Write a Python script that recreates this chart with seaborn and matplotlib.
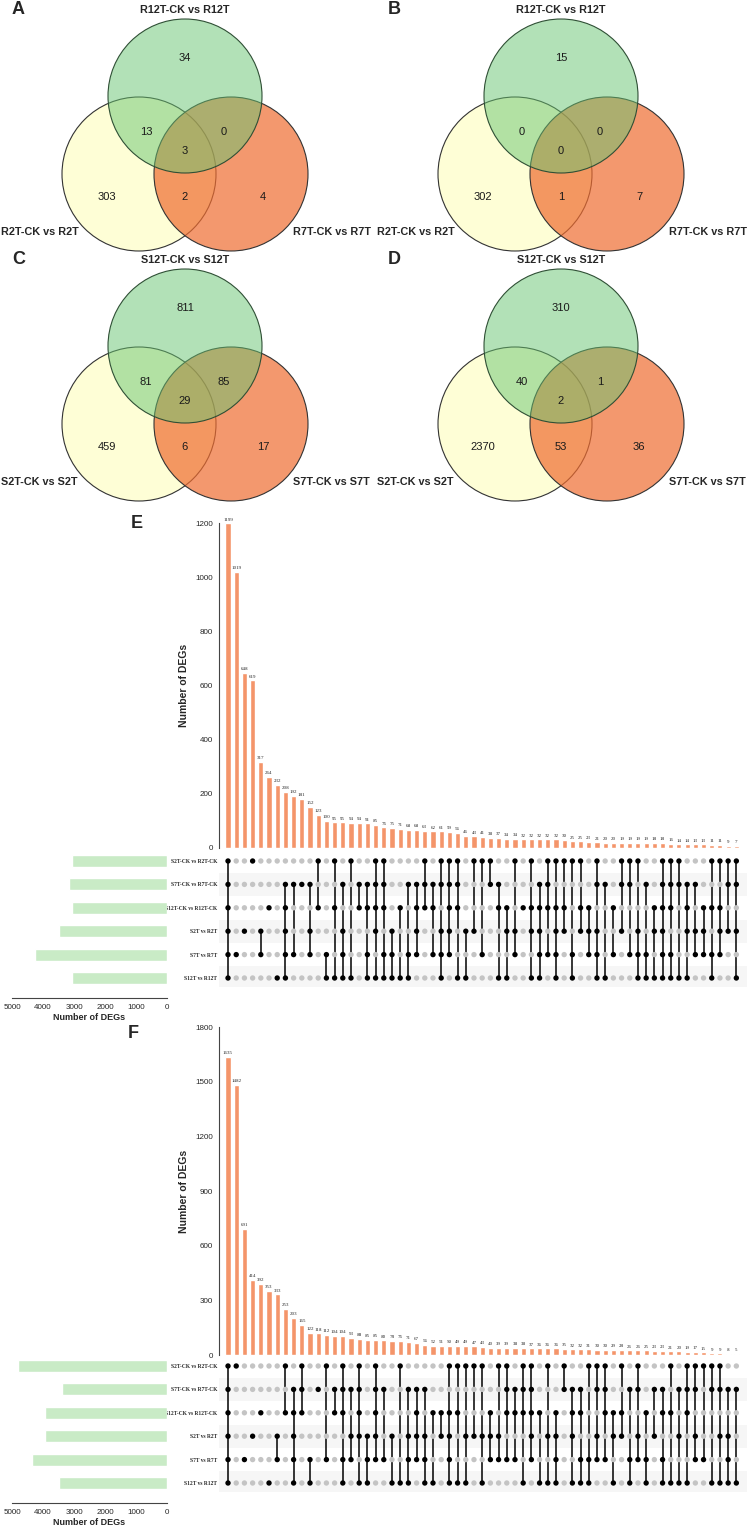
import numpy as np
import pandas as pd
import matplotlib
matplotlib.use("Agg")
import matplotlib.pyplot as plt
from matplotlib.patches import Circle
import seaborn as sns

sns.set_style("white")
plt.rcParams['font.family'] = ['Liberation Sans', 'DejaVu Sans']

W, H = 747, 1526
GREEN_C = '#67c571'
YELLOW_C = '#fefed6'
ORANGE_C = '#ef6c30'
BAR_C = '#f4956a'
SIDE_C = '#c9ebc6'

# ---------------- Venn data ----------------
# order: top only, top&left, top&right, all three, left only, left&right, right only
venn_letters = ['A', 'B', 'C', 'D']
venn_top = ['R12T-CK vs R12T', 'R12T-CK vs R12T', 'S12T-CK vs S12T', 'S12T-CK vs S12T']
venn_left = ['R2T-CK vs R2T', 'R2T-CK vs R2T', 'S2T-CK vs S2T', 'S2T-CK vs S2T']
venn_right = ['R7T-CK vs R7T', 'R7T-CK vs R7T', 'S7T-CK vs S7T', 'S7T-CK vs S7T']
venn_A = [34, 13, 0, 3, 303, 2, 4]
venn_B = [15, 0, 0, 0, 302, 1, 7]
venn_C = [811, 81, 85, 29, 459, 6, 17]
venn_D = [310, 40, 1, 2, 2370, 53, 36]

# ---------------- UpSet data ----------------
set_names = ['S2T-CK vs R2T-CK', 'S7T-CK vs R7T-CK', 'S12T-CK vs R12T-CK',
             'S2T vs R2T', 'S7T vs R7T', 'S12T vs R12T']

E_counts = [1199, 1019, 648, 619, 317, 264, 232, 208, 192, 181, 152, 123, 100, 95, 95, 94,
            94, 91, 85, 76, 75, 71, 68, 68, 63, 62, 61, 59, 56, 46, 43, 41, 38, 37, 34, 34,
            32, 32, 32, 32, 32, 30, 25, 25, 23, 21, 20, 20, 19, 19, 19, 19, 18, 18, 16, 14,
            14, 13, 13, 11, 11, 9, 7]
# columns in which each set (row) is part of the intersection
E_active = [
    [0, 3, 11, 13, 15, 18, 19, 24, 26, 27, 28, 30, 31, 32, 35, 37, 39, 40, 41, 42, 43, 45,
     48, 49, 50, 53, 54, 55, 59, 60, 61, 62],
    [0, 7, 8, 9, 10, 14, 16, 17, 18, 19, 22, 23, 24, 25, 26, 27, 28, 32, 33, 38, 39, 45,
     46, 48, 49, 51, 53, 54, 55, 56, 57, 61, 62],
    [0, 5, 7, 11, 13, 16, 17, 18, 19, 21, 23, 24, 25, 27, 28, 33, 34, 36, 37, 38, 39, 40,
     41, 43, 44, 47, 52, 53, 54, 56, 58, 59, 60],
    [0, 2, 4, 7, 10, 14, 18, 20, 23, 26, 27, 29, 30, 34, 35, 37, 38, 40, 41, 43, 44, 45,
     48, 50, 52, 53, 56, 57, 58, 60, 61, 62],
    [0, 1, 4, 7, 8, 10, 12, 14, 17, 19, 20, 22, 23, 25, 26, 27, 31, 35, 38, 39, 40, 42,
     44, 45, 47, 49, 50, 51, 53, 54, 57, 58, 59, 60],
    [0, 6, 7, 12, 13, 14, 15, 17, 18, 19, 20, 21, 22, 26, 28, 29, 33, 34, 37, 38, 40, 42,
     45, 46, 50, 51, 52, 53, 54, 55, 56, 59, 62],
]
E_sizes = [3050, 3150, 3050, 3500, 4250, 3050]

F_counts = [1635, 1482, 691, 414, 392, 353, 333, 253, 203, 165, 122, 118, 112, 104, 104, 93,
            88, 85, 85, 80, 78, 76, 71, 67, 56, 52, 51, 50, 49, 49, 47, 43, 40, 39, 39, 38,
            38, 37, 36, 36, 36, 35, 32, 32, 31, 30, 30, 29, 28, 26, 26, 25, 23, 23, 21, 20,
            19, 17, 15, 9, 9, 8, 5]
F_active = [
    [0, 1, 7, 9, 12, 14, 16, 18, 21, 27, 28, 29, 30, 31, 33, 34, 36, 37, 39, 41, 44, 45,
     46, 48, 50, 54, 56, 57, 58, 59, 60],
    [0, 8, 9, 11, 13, 14, 15, 16, 18, 19, 22, 23, 24, 34, 35, 36, 37, 41, 42, 43, 45, 46,
     49, 50, 52, 53, 55, 56, 57, 59, 60, 61, 62],
    [0, 4, 7, 8, 9, 13, 14, 16, 18, 23, 25, 26, 27, 28, 32, 34, 35, 36, 37, 38, 40, 42,
     43, 46, 47, 48, 51, 53, 54, 56],
    [0, 3, 6, 8, 15, 16, 17, 18, 20, 22, 23, 24, 26, 27, 29, 30, 31, 32, 33, 37, 39, 40,
     42, 45, 47, 48, 50, 52, 55, 57, 60, 61],
    [0, 2, 6, 8, 10, 12, 14, 15, 17, 18, 19, 22, 23, 24, 27, 32, 33, 34, 35, 37, 40, 43,
     44, 45, 46, 49, 50, 51, 53, 57, 58, 61],
    [0, 5, 8, 10, 14, 16, 17, 20, 21, 22, 24, 25, 27, 28, 29, 31, 36, 38, 39, 40, 42, 43,
     44, 47, 49, 51, 53, 54, 55, 56, 59, 60, 61, 62],
]
F_sizes = [4800, 3400, 3950, 3950, 4350, 3500]

fig = plt.figure(figsize=(W / 100, H / 100), dpi=100)


def px_axes(x0, y0, x1, y1):
    return fig.add_axes([x0 / W, 1 - y1 / H, (x1 - x0) / W, (y1 - y0) / H])


# ================= Venn diagrams =================
axv = px_axes(0, 0, W, 510)
axv.set_xlim(0, W)
axv.set_ylim(510, 0)
axv.axis('off')

centers = [(185, 96), (561, 96), (185, 346), (561, 346)]
venn_vals = [venn_A, venn_B, venn_C, venn_D]
R = 77
offs = [(0, -38), (-39, 36), (39, 36), (0, 55), (-78, 101), (0, 101), (78, 101)]
for k, (gx, gy) in enumerate(centers):
    axv.add_patch(Circle((gx - 46, gy + 78), R, facecolor=YELLOW_C, edgecolor='#333333', lw=0.8))
    axv.add_patch(Circle((gx + 46, gy + 78), R, facecolor=ORANGE_C, alpha=0.7, edgecolor='none'))
    axv.add_patch(Circle((gx + 46, gy + 78), R, facecolor='none', edgecolor='#333333', lw=0.8))
    axv.add_patch(Circle((gx, gy), R, facecolor=GREEN_C, alpha=0.5, edgecolor='none'))
    axv.add_patch(Circle((gx, gy), R, facecolor='none', edgecolor='#2f4f35', lw=0.8))
    for v, (dx, dy) in zip(venn_vals[k], offs):
        axv.text(gx + dx, gy + dy, str(v), ha='center', va='center', fontsize=8, color='#1a1a1a')
    axv.text(gx, gy - 86, venn_top[k], ha='center', va='center', fontsize=7.8, weight='bold')
    axv.text(gx - 184, gy + 136, venn_left[k], ha='left', va='center', fontsize=7.8, weight='bold')
    axv.text(gx + 108, gy + 136, venn_right[k], ha='left', va='center', fontsize=7.8, weight='bold')
    axv.text(gx - 173, gy - 86, venn_letters[k], ha='left', va='center', fontsize=13, weight='bold')


# ================= UpSet plots =================
def upset(counts, active, sizes, y_top, y_zero, ymax, yticks, row0, letter, letter_xy):
    n = len(counts)
    sp = 23.4
    xlim = (-1.1, 63.3)

    # intersection bars
    axb = px_axes(219, y_top, 747, y_zero)
    dfb = pd.DataFrame({'col': np.arange(n), 'count': counts})
    sns.barplot(data=dfb, x='col', y='count', color=BAR_C, saturation=1, width=0.62, ax=axb)
    axb.set_xlim(xlim)
    axb.set_ylim(0, ymax)
    for i, v in enumerate(counts):
        axb.annotate(str(v), (i, v), xytext=(0, 1.2), textcoords='offset points',
                     ha='center', va='bottom', fontsize=3.6, family='Liberation Serif',
                     annotation_clip=False)
    axb.set_yticks(yticks)
    axb.set_yticklabels([str(t) for t in yticks], fontsize=5.8)
    axb.set_xticks([])
    axb.set_xlabel('')
    axb.set_ylabel('Number of DEGs', fontsize=7.5, weight='bold', labelpad=4)
    for s in ['top', 'right', 'bottom']:
        axb.spines[s].set_visible(False)
    axb.spines['left'].set_color('#444444')
    axb.spines['left'].set_linewidth(0.8)
    axb.tick_params(axis='y', length=3, width=0.8, color='#444444', pad=1.5)
    axb.patch.set_alpha(0)

    # dot matrix
    axm = px_axes(219, row0 - 0.4 * sp, 747, row0 + 5.4 * sp)
    for r in range(1, 6, 2):
        axm.axhspan(r - 0.5, r + 0.5, color='#f6f6f6', zorder=0, lw=0)
    rows, cols, on = [], [], []
    for r in range(6):
        for c in range(n):
            rows.append(r)
            cols.append(c)
            on.append(c in active[r])
    dfm = pd.DataFrame({'row': rows, 'col': cols, 'on': on})
    sns.scatterplot(data=dfm, x='col', y='row', hue='on', palette={True: 'black', False: '#c4c4c4'},
                    s=15, linewidth=0, legend=False, ax=axm, zorder=3)
    on_df = dfm[dfm['on']]
    span = on_df.groupby('col')['row'].agg(['min', 'max'])
    axm.vlines(span.index, span['min'], span['max'], color='black', lw=1.1, zorder=2)
    axm.set_xlim(xlim)
    axm.set_ylim(5.4, -0.4)
    axm.set_yticks(range(6))
    axm.set_yticklabels(set_names, fontsize=4, family='Liberation Serif', weight='bold')
    axm.set_xticks([])
    axm.set_xlabel('')
    axm.set_ylabel('')
    axm.tick_params(axis='y', length=0, pad=1.5)
    for s in axm.spines.values():
        s.set_visible(False)
    axm.patch.set_alpha(0)

    # set sizes
    axl = px_axes(12, row0 - 0.39 * sp, 167, row0 + 5.86 * sp)
    dfl = pd.DataFrame({'row': np.arange(6), 'size': sizes})
    sns.barplot(data=dfl, x='size', y='row', orient='h', color=SIDE_C, saturation=1,
                width=0.52, ax=axl)
    axl.set_xlim(5000, 0)
    axl.set_ylim(5.86, -0.39)
    axl.set_xticks([5000, 4000, 3000, 2000, 1000, 0])
    axl.set_xticklabels(['5000', '4000', '3000', '2000', '1000', '0'], fontsize=5.8)
    axl.set_yticks([])
    axl.set_ylabel('')
    axl.set_xlabel('Number of DEGs', fontsize=6.5, weight='bold', labelpad=1)
    for s in ['top', 'right', 'left']:
        axl.spines[s].set_visible(False)
    axl.spines['bottom'].set_color('#444444')
    axl.spines['bottom'].set_linewidth(0.8)
    axl.tick_params(axis='x', length=3, width=0.8, color='#444444', pad=1.5)
    axl.patch.set_alpha(0)

    fig.text(letter_xy[0] / W, 1 - letter_xy[1] / H, letter, fontsize=13, weight='bold',
             ha='center', va='center')


upset(E_counts, E_active, E_sizes, 523, 848, 1200, [0, 200, 400, 600, 800, 1000, 1200],
      861, 'E', (137, 524))
upset(F_counts, F_active, F_sizes, 1027, 1355, 1800, [0, 300, 600, 900, 1200, 1500, 1800],
      1366, 'F', (133, 1033))

fig.savefig('out.png', dpi=100)
